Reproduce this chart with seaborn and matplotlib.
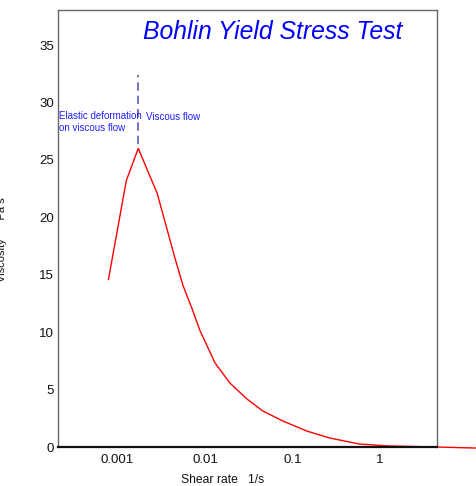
import matplotlib
matplotlib.use("Agg")
import matplotlib.pyplot as plt
import seaborn as sns
import pandas as pd

shear_rate = [7.9e-4, 1.266e-3, 1.732e-3, 2.848e-3, 4.56e-3, 5.62e-3, 7.12e-3, 8.78e-3,
              1.30e-2, 1.92e-2, 3.00e-2, 4.56e-2, 5.06e-2, 7.70e-2, 0.144, 0.263,
              0.577, 1.266, 4.33, 12.3]
viscosity = [14.57, 23.21, 26.0, 22.08, 16.4, 14.05, 12.04, 10.12,
             7.33, 5.58, 4.19, 3.14, 2.97, 2.27, 1.40, 0.79,
             0.26, 0.09, 0.0, -0.09]
x_ticks = [0.001, 0.01, 0.1, 1]
x_tick_labels = ["0.001", "0.01", "0.1", "1"]
y_ticks = [0, 5, 10, 15, 20, 25, 30, 35]
yield_rate = 0.00174
yield_line = [26.4, 32.4]

sns.set_theme(style="white")
plt.rcParams['font.family'] = ['Liberation Sans', 'DejaVu Sans']

W, H = 477, 486
fig = plt.figure(figsize=(W / 100, H / 100), dpi=100)
ax = fig.add_axes([58 / W, 1 - 447 / H, (437 - 58) / W, (447 - 10) / H])

df = pd.DataFrame({"rate": shear_rate, "visc": viscosity})
sns.lineplot(data=df, x="rate", y="visc", ax=ax, color="#ff0000", linewidth=1.0,
             sort=False, estimator=None)
for ln in ax.lines:
    ln.set_clip_on(False)

ax.set_xscale("log")
ax.set_xlim(2.1e-4, 4.45)
ax.set_ylim(0, 38.05)
ax.set_xticks(x_ticks)
ax.set_xticklabels(x_tick_labels)
ax.minorticks_off()
ax.set_yticks(y_ticks)
ax.tick_params(axis="both", length=0, labelsize=9.5, colors="#111111")
ax.tick_params(axis="y", pad=3)
ax.tick_params(axis="x", pad=5)
ax.set_xlabel("")
ax.set_ylabel("")

for side in ["left", "top", "right"]:
    ax.spines[side].set_color("#666666")
    ax.spines[side].set_linewidth(1.0)
ax.spines["bottom"].set_color("#111111")
ax.spines["bottom"].set_linewidth(1.6)

ax.plot([yield_rate, yield_rate], yield_line, color="#5a5ab8", linestyle=(0, (5, 3)),
        linewidth=1.2)

ax.text(0.567, 0.95, "Bohlin Yield Stress Test", transform=ax.transAxes,
        ha="center", va="center", fontsize=17.8, style="italic", color="#0000ff")
fig.text(59 / W, 1 - 122 / H, "Elastic deformation\non viscous flow", ha="left",
         va="center", fontsize=7, color="#2020ff", linespacing=1.3)
fig.text(146 / W, 1 - 117 / H, "Viscous flow", ha="left", va="center",
         fontsize=7, color="#2020ff")

fig.text(223 / W, 1 - 480 / H, "Shear rate   1/s", ha="center", va="center",
         fontsize=8.7, color="#111111")
fig.text(-3 / W, 1 - 240 / H, "Viscosity      Pa s", ha="left", va="center",
         rotation=90, fontsize=8, color="#111111")

fig.savefig("out.png", dpi=100)
